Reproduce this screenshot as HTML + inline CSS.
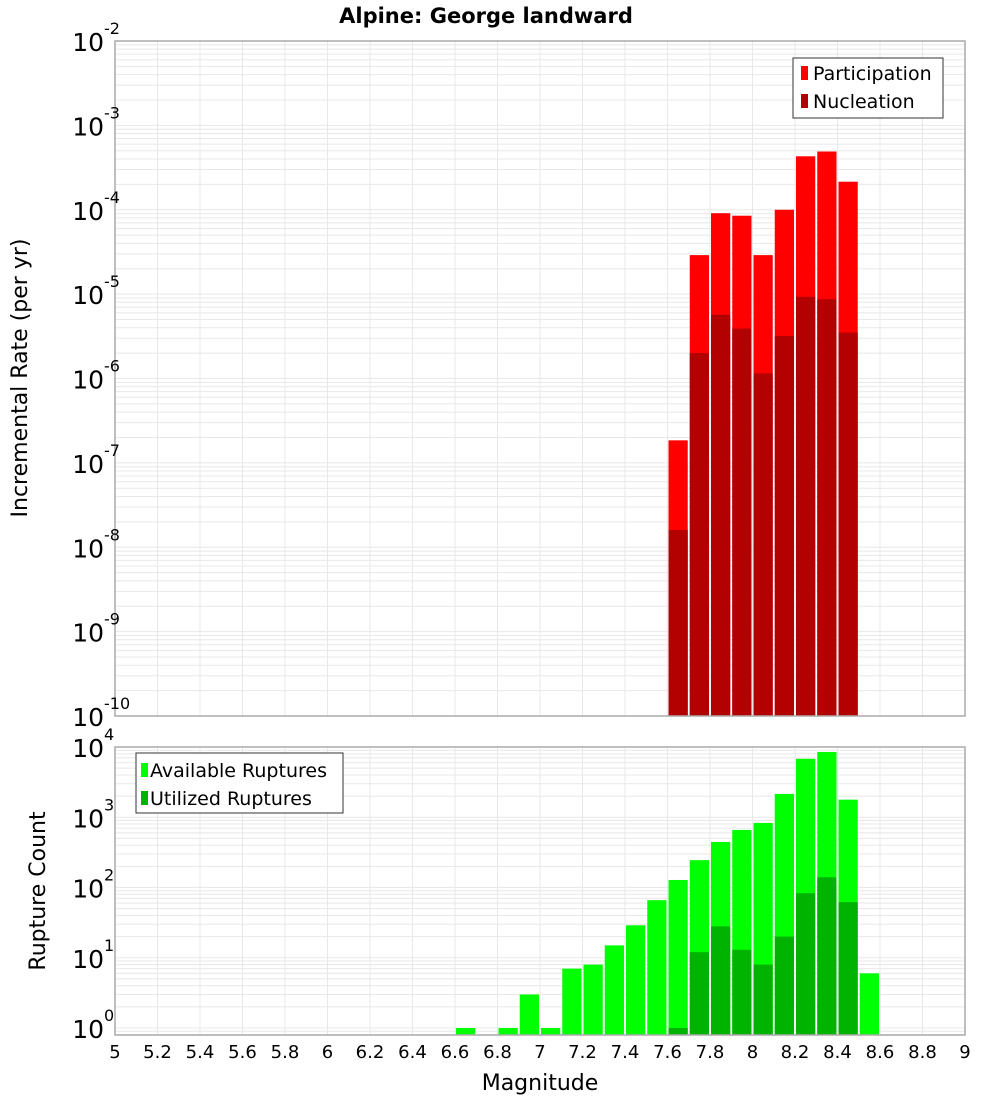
<!DOCTYPE html>
<html><head><meta charset="utf-8"><style>
body{margin:0;background:#fff;width:1000px;height:1100px;overflow:hidden;font-family:"DejaVu Sans","Liberation Sans",sans-serif}
svg text{font-family:"DejaVu Sans","Liberation Sans",sans-serif}
</style></head><body>
<svg id="chart" width="1000" height="1100" xmlns="http://www.w3.org/2000/svg">
<text x="486" y="23" text-anchor="middle" font-size="21" font-weight="bold">Alpine: George landward</text>
<g id="topPlot"></g>
<g id="botPlot"></g>
<text transform="translate(27,378) rotate(-90)" text-anchor="middle" font-size="22">Incremental Rate (per yr)</text>
<text transform="translate(45,891) rotate(-90)" text-anchor="middle" font-size="22">Rupture Count</text>
<text x="540" y="1090" text-anchor="middle" font-size="22">Magnitude</text>
<g>
<rect x="793" y="58" width="150" height="60" fill="#fff" stroke="#333"/>
<rect x="801" y="66" width="7" height="14" fill="#ff0000"/>
<text x="813" y="80" font-size="19">Participation</text>
<rect x="801" y="94" width="7" height="14" fill="#b30000"/>
<text x="813" y="108" font-size="19">Nucleation</text>
</g>
<g>
<rect x="136" y="753" width="207" height="60" fill="#fff" stroke="#333"/>
<rect x="141" y="763" width="7" height="14" fill="#00ff00"/>
<text x="150" y="777" font-size="19">Available Ruptures</text>
<rect x="141" y="791" width="7" height="14" fill="#00b300"/>
<text x="150" y="805" font-size="19">Utilized Ruptures</text>
</g>
</svg>
<script>
const bins=[7.6,7.7,7.8,7.9,8.0,8.1,8.2,8.3,8.4];
const participation=[1.85e-7,2.9e-5,9.1e-5,8.5e-5,2.9e-5,1.0e-4,4.3e-4,4.9e-4,2.15e-4];
const nucleation=[1.6e-8,2.0e-6,5.7e-6,3.9e-6,1.15e-6,3.2e-6,9.3e-6,8.7e-6,3.5e-6];
const availBins=[6.6,6.8,6.9,7.0,7.1,7.2,7.3,7.4,7.5,7.6,7.7,7.8,7.9,8.0,8.1,8.2,8.3,8.4,8.5];
const available=[1,1,3,1,7,8,15,29,66,128,245,445,660,830,2150,6800,8500,1780,6];
const utilBins=[7.6,7.7,7.8,7.9,8.0,8.1,8.2,8.3,8.4];
const utilized=[1,12,28,13,8,20,83,140,62];
const xTicks=[5,5.2,5.4,5.6,5.8,6,6.2,6.4,6.6,6.8,7,7.2,7.4,7.6,7.8,8,8.2,8.4,8.6,8.8,9];
const topExps=[-2,-3,-4,-5,-6,-7,-8,-9,-10];
const botExps=[4,3,2,1,0];
const NS='http://www.w3.org/2000/svg';
const L=115,R=965;
const x=m=>L+(m-5)*(R-L)/4;
const yT=v=>41+(-2-Math.log10(v))*(716-41)/8;
const yB=v=>1028-Math.log10(v)*(1028-747)/4;
function mk(p,t,a){const e=document.createElementNS(NS,t);for(const k in a)e.setAttribute(k,a[k]);p.appendChild(e);return e;}
function frame(g,t0,b0,yf,lo,hi){
 for(let d=lo;d<hi;d++)for(let k=1;k<10;k++){const y=yf(k*Math.pow(10,d));if(y<t0-0.5||y>b0+0.5)continue;
  const l=mk(g,'line',{x1:L,x2:R,y1:y,y2:y,stroke:'#e8e8e8','stroke-width':1});
  
  }
 xTicks.forEach(t=>{const l=mk(g,'line',{x1:x(t),x2:x(t),y1:t0,y2:b0,stroke:'#e8e8e8','stroke-width':1});
  
  });
}
const gTop=document.getElementById('topPlot'),gBot=document.getElementById('botPlot');
frame(gTop,41,716,yT,-10,-2);
frame(gBot,747,1035,yB,-1,4);
const bw=(R-L)/40;
function bars(g,bs,vals,yf,base,col,name){
 vals.forEach((v,i)=>{const x0=x(bs[i])+1,y0=yf(v);
  const r=mk(g,'rect',{x:x0,y:y0,width:bw-2,height:base-y0,fill:col});
  
  });
}
bars(gTop,bins,participation,yT,716,'#ff0000','participation-bar');
bars(gTop,bins,nucleation,yT,716,'#b30000','nucleation-bar');
bars(gBot,availBins,available,yB,1035,'#00ff00','available-bar');
bars(gBot,utilBins,utilized,yB,1035,'#00b300','utilized-bar');
mk(gTop,'rect',{x:L,y:41,width:R-L,height:675,fill:'none',stroke:'#aaa','stroke-width':1.5});
mk(gBot,'rect',{x:L,y:747,width:R-L,height:288,fill:'none',stroke:'#aaa','stroke-width':1.5});
function ylab(g,e,y,name){const t=mk(g,'text',{x:104,y:y+10,'text-anchor':'end','font-size':25});
 t.textContent='10';
 
 
 const s=mk(g,'text',{x:104,y:y-7,'font-size':16});s.textContent=String(e);}
topExps.forEach(e=>ylab(gTop,e,yT(Math.pow(10,e)),'top-y-tick-label'));
botExps.forEach(e=>ylab(gBot,e,yB(Math.pow(10,e)),'bottom-y-tick-label'));
xTicks.forEach(t=>{const l=mk(gBot,'text',{x:x(t),y:1058,'text-anchor':'middle','font-size':18});
 l.textContent=String(t);
 
 });
</script>
</body></html>
